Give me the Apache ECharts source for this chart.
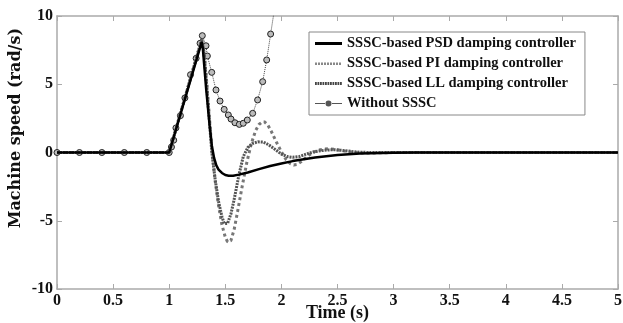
<!DOCTYPE html>
<html>
<head>
<meta charset="utf-8">
<script src="https://cdn.jsdelivr.net/npm/echarts@6/dist/echarts.min.js"></script>
<style>
  html, body { margin: 0; padding: 0; background: #fff; }
  #chart { width: 623px; height: 323px; }
</style>
</head>
<body>
<div id="chart"></div>
<script>
// time (s) and machine speed (rad/s)
var tPSD = [0, 1.0, 1.29, 1.30, 1.31, 1.33, 1.36, 1.38, 1.40, 1.42, 1.44, 1.47, 1.5, 1.53, 1.57, 1.62, 1.7, 1.8, 1.9, 2.0, 2.1, 2.2, 2.3, 2.4, 2.5, 2.6, 2.7, 2.8, 2.9, 3.0, 3.2, 5];
var vPSD = [0, 0, 8.1, 7.6, 6.6, 4.6, 2.0, 0.5, -0.4, -0.95, -1.25, -1.5, -1.65, -1.7, -1.7, -1.62, -1.47, -1.22, -0.99, -0.8, -0.63, -0.49, -0.37, -0.27, -0.19, -0.13, -0.08, -0.05, -0.03, -0.01, 0, 0];

var tPI = [0, 1.0, 1.29, 1.31, 1.33, 1.35, 1.38, 1.41, 1.44, 1.47, 1.5, 1.52, 1.535, 1.55, 1.58, 1.61, 1.65, 1.69, 1.73, 1.77, 1.8, 1.83, 1.85, 1.88, 1.91, 1.95, 2.0, 2.04, 2.08, 2.11, 2.14, 2.18, 2.22, 2.27, 2.32, 2.37, 2.42, 2.48, 2.55, 2.62, 2.7, 2.8, 2.9, 3.0, 5];
var vPI = [0, 0, 8.3, 7.4, 5.6, 3.5, 0.2, -2.1, -3.9, -5.3, -6.2, -6.55, -6.6, -6.45, -5.6, -4.3, -2.5, -0.8, 0.6, 1.6, 2.05, 2.25, 2.24, 2.0, 1.55, 0.85, 0.05, -0.5, -0.82, -0.92, -0.88, -0.65, -0.35, -0.05, 0.15, 0.24, 0.27, 0.22, 0.12, 0.03, -0.03, -0.04, -0.02, 0, 0];

var tLL = [0, 1.0, 1.29, 1.31, 1.33, 1.35, 1.38, 1.41, 1.44, 1.47, 1.49, 1.505, 1.52, 1.55, 1.58, 1.62, 1.66, 1.7, 1.74, 1.79, 1.84, 1.89, 1.94, 2.0, 2.05, 2.1, 2.16, 2.22, 2.28, 2.35, 2.42, 2.48, 2.55, 2.62, 2.7, 2.8, 5];
var vLL = [0, 0, 8.3, 7.3, 5.4, 3.2, 0, -2.0, -3.6, -4.7, -5.2, -5.3, -5.2, -4.5, -3.4, -1.7, -0.3, 0.35, 0.65, 0.78, 0.76, 0.55, 0.25, -0.12, -0.3, -0.35, -0.3, -0.12, 0.03, 0.13, 0.19, 0.2, 0.15, 0.08, 0.02, 0, 0];

var tNo = [0, 0.2, 0.4, 0.6, 0.8, 1.0, 1.02, 1.04, 1.06, 1.1, 1.14, 1.19, 1.24, 1.275, 1.295, 1.328, 1.34, 1.379, 1.417, 1.453, 1.49, 1.527, 1.551, 1.586, 1.625, 1.66, 1.696, 1.744, 1.788, 1.833, 1.869, 1.904, 1.94];
var vNo = [0, 0, 0, 0, 0, 0, 0.4, 0.9, 1.8, 2.7, 4.0, 5.7, 6.9, 8.0, 8.56, 7.82, 7.07, 5.87, 4.58, 3.77, 3.16, 2.75, 2.45, 2.18, 2.06, 2.14, 2.38, 2.87, 3.85, 5.19, 6.78, 8.68, 10.6];

var names = ['SSSC-based PSD damping controller', 'SSSC-based PI damping controller', 'SSSC-based LL damping controller', 'Without SSSC'];

function pairs(t, v) {
  return t.map(function (x, i) { return [x, v[i]]; });
}

// legend glyphs drawn as short line samples (box 27 x 14)
var iconSolid = 'path://M0,0 M0,5.5 h27 v3 h-27 z M27,14';
var iconDots = 'path://M0,0 ' + [0, 3, 6, 9, 12, 15, 18, 21, 24].map(function (x) {
  return 'M' + x + ',6 h2 v2.5 h-2 z';
}).join(' ') + ' M27,14';
var iconDash = 'path://M0,0 ' + [0, 2.5, 5, 7.5, 10, 12.5, 15, 17.5, 20, 22.5, 25].map(function (x) {
  return 'M' + x + ',5.5 h1.8 v3 h-1.8 z';
}).join(' ') + ' M27,14';
var iconMark = 'path://M0,0 M0,6.5 h10 v1 h-10 z M17,6.5 h10 v1 h-10 z M16.5,7 a3,3 0 1,0 -6,0 a3,3 0 1,0 6,0 z M27,14';

var chart = echarts.init(document.getElementById('chart'));
var font = 'Liberation Serif';
var axisGray = '#aaa';
var labelStyle = { fontFamily: font, fontWeight: 'bold', fontSize: 16, color: '#111' };

var option = {
  animation: false,
  backgroundColor: '#fff',
  grid: { left: 57, right: 5, top: 16, bottom: 34, outerBoundsMode: 'none' },
  legend: {
    orient: 'vertical',
    left: 309,
    top: 32,
    padding: [4, 9, 4, 6],
    itemGap: 5,
    itemWidth: 27,
    itemHeight: 14,
    backgroundColor: '#fff',
    borderColor: '#888',
    borderWidth: 1,
    textStyle: { fontFamily: font, fontWeight: 'bold', fontSize: 14.5, color: '#111' },
    data: [
      { name: names[0], icon: iconSolid, itemStyle: { color: '#000', borderWidth: 0 } },
      { name: names[1], icon: iconDots, itemStyle: { color: '#888', borderWidth: 0 } },
      { name: names[2], icon: iconDash, itemStyle: { color: '#444', borderWidth: 0 } },
      { name: names[3], icon: iconMark, itemStyle: { color: '#555', borderWidth: 0 } }
    ]
  },
  graphic: [{
    type: 'text',
    left: 8,
    top: 28,
    style: {
      text: 'Machine speed (rad/s)',
      font: 'bold 16px "DejaVu Serif"',
      fill: '#111'
    },
    rotation: Math.PI / 2,
    originX: 0,
    originY: 0
  }],
  xAxis: [{
    type: 'value', min: 0, max: 5, interval: 0.5,
    name: 'Time (s)', nameLocation: 'middle', nameGap: 15, nameMoveOverlap: false,
    nameTextStyle: { fontFamily: font, fontWeight: 'bold', fontSize: 18, color: '#111' },
    axisLine: { onZero: false, lineStyle: { color: axisGray, width: 1.5 } },
    axisTick: { inside: true, length: 5, lineStyle: { color: axisGray } },
    axisLabel: Object.assign({ margin: 4 }, labelStyle),
    splitLine: { show: false }
  }, {
    type: 'value', min: 0, max: 5, interval: 0.5, position: 'top',
    axisLine: { onZero: false, lineStyle: { color: axisGray, width: 1.5 } },
    axisTick: { inside: true, length: 5, lineStyle: { color: axisGray } },
    axisLabel: { show: false },
    splitLine: { show: false }
  }],
  yAxis: [{
    type: 'value', min: -10, max: 10, interval: 5,
    axisLine: { show: true, onZero: false, lineStyle: { color: axisGray, width: 1.5 } },
    axisTick: { show: true, inside: true, length: 5, lineStyle: { color: axisGray } },
    axisLabel: Object.assign({ margin: 4 }, labelStyle),
    splitLine: { show: false }
  }, {
    type: 'value', min: -10, max: 10, interval: 5, position: 'right',
    axisLine: { show: true, onZero: false, lineStyle: { color: axisGray, width: 1.5 } },
    axisTick: { show: true, inside: true, length: 5, lineStyle: { color: axisGray } },
    axisLabel: { show: false },
    splitLine: { show: false }
  }],
  series: [{
    name: names[3], type: 'line', data: pairs(tNo, vNo),
    symbol: 'circle', symbolSize: 6, showAllSymbol: true,
    lineStyle: { color: '#444', width: 1, type: 'dotted' },
    itemStyle: { color: '#bbb', borderColor: '#222', borderWidth: 1 },
    z: 2
  }, {
    name: names[1], type: 'line', data: pairs(tPI, vPI), symbol: 'none',
    lineStyle: { color: '#777', width: 3, type: 'dotted' },
    itemStyle: { color: '#777' }, z: 3
  }, {
    name: names[2], type: 'line', data: pairs(tLL, vLL), symbol: 'none',
    lineStyle: { color: '#555', width: 3, type: [2, 1] },
    itemStyle: { color: '#555' }, z: 3
  }, {
    name: names[0], type: 'line', data: pairs(tPSD, vPSD), symbol: 'none',
    lineStyle: { color: '#000', width: 2.5 },
    itemStyle: { color: '#000' }, z: 4
  }]
};

chart.setOption(option);
</script>
</body>
</html>
